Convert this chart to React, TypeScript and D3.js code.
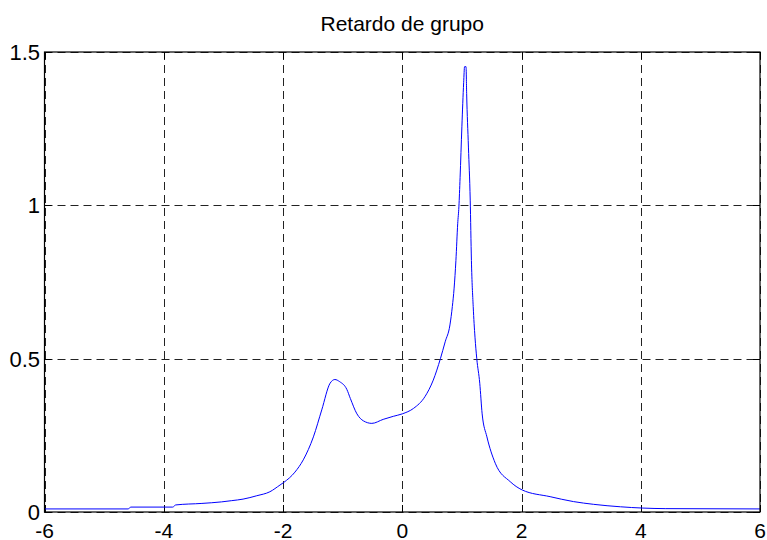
import React from "react";
import * as d3 from "d3";

const xs = [-6.0, -4.6, -4.55, -3.85, -3.8, -3.36, -3.03, -2.86, -2.67, -2.44, -2.22, -2.05, -1.99, -1.8, -1.66, -1.49, -1.35, -1.21, -1.13, -1.05, -0.93, -0.87, -0.76, -0.65, -0.51, -0.32, -0.15, 0.0, 0.19, 0.38, 0.52, 0.64, 0.72, 0.8, 0.84, 0.87, 0.9, 0.93, 0.95, 0.97, 1.0, 1.03, 1.045, 1.07, 1.08, 1.11, 1.14, 1.16, 1.19, 1.22, 1.25, 1.3, 1.34, 1.42, 1.56, 1.81, 2.01, 2.48, 2.87, 3.21, 3.66, 4.41, 6.0];
const ys = [0.01, 0.01, 0.016, 0.016, 0.023, 0.028, 0.033, 0.037, 0.042, 0.053, 0.066, 0.088, 0.096, 0.13, 0.17, 0.245, 0.333, 0.42, 0.432, 0.425, 0.4, 0.37, 0.32, 0.297, 0.289, 0.302, 0.312, 0.32, 0.338, 0.376, 0.43, 0.5, 0.555, 0.61, 0.67, 0.73, 0.82, 0.94, 0.995, 1.09, 1.256, 1.4, 1.452, 1.452, 1.365, 1.19, 1.017, 0.82, 0.67, 0.57, 0.5, 0.42, 0.32, 0.245, 0.159, 0.099, 0.072, 0.05, 0.034, 0.025, 0.017, 0.011, 0.01];
const xTicks = [-6, -4, -2, 0, 2, 4, 6];
const yTicks = [0, 0.5, 1, 1.5];
const yTickLabels = ["0", "0.5", "1", "1.5"];
const title = "Retardo de grupo";

const W = 767;
const H = 540;
const L = 44.5;
const R = 760;
const T = 52;
const B = 512;

export default function App() {
  const x = d3.scaleLinear().domain([-6, 6]).range([L, R]);
  const y = d3.scaleLinear().domain([0, 1.5]).range([B, T]);
  const pts: [number, number][] = xs.map((v, i) => [v, ys[i]]);
  const line = d3
    .line<[number, number]>()
    .x((d) => x(d[0]))
    .y((d) => y(d[1]))
    .curve(d3.curveMonotoneX);
  const font = "'Liberation Sans', Arial, sans-serif";
  return (
    <svg
      width={W}
      height={H}
      style={{ position: "absolute", left: 0, top: 0, background: "#fff" }}
    >
      <rect x={0} y={0} width={W} height={H} fill="#fff" />
      {xTicks.map((t) => (
        <line
          key={"gx" + t}
          x1={Math.round(x(t)) + 0.5}
          x2={Math.round(x(t)) + 0.5}
          y1={T}
          y2={B}
          stroke="#222"
          strokeDasharray="8,5"
        />
      ))}
      {yTicks.map((t) => (
        <line
          key={"gy" + t}
          x1={L}
          x2={R}
          y1={Math.round(y(t)) + 0.5}
          y2={Math.round(y(t)) + 0.5}
          stroke="#222"
          strokeDasharray="8,5"
        />
      ))}
      {xTicks.map((t) => (
        <g key={"tx" + t}>
          <line x1={Math.round(x(t)) + 0.5} x2={Math.round(x(t)) + 0.5} y1={B} y2={B - 7} stroke="#000" />
          <line x1={Math.round(x(t)) + 0.5} x2={Math.round(x(t)) + 0.5} y1={T} y2={T + 7} stroke="#000" />
        </g>
      ))}
      {yTicks.map((t) => (
        <g key={"ty" + t}>
          <line x1={L} x2={L + 7} y1={Math.round(y(t)) + 0.5} y2={Math.round(y(t)) + 0.5} stroke="#000" />
          <line x1={R} x2={R - 7} y1={Math.round(y(t)) + 0.5} y2={Math.round(y(t)) + 0.5} stroke="#000" />
        </g>
      ))}
      <path d={line(pts) || ""} fill="none" stroke="#0000ff" strokeWidth={1} />
      <rect x={L} y={T} width={R - L} height={B - T} fill="none" stroke="#000" strokeWidth={1.2} />
      {xTicks.map((t) => (
        <text
          key={"lx" + t}
          x={x(t)}
          y={538}
          textAnchor="middle"
          fontFamily={font}
          fontSize={21}
          fill="#000"
        >
          {String(t)}
        </text>
      ))}
      {yTicks.map((t, i) => (
        <text
          key={"ly" + t}
          x={40}
          y={y(t) + 8}
          textAnchor="end"
          fontFamily={font}
          fontSize={22}
          fill="#000"
        >
          {yTickLabels[i]}
        </text>
      ))}
      <text
        x={(L + R) / 2}
        y={31}
        textAnchor="middle"
        fontFamily={font}
        fontSize={21}
        fill="#000"
      >
        {title}
      </text>
    </svg>
  );
}
